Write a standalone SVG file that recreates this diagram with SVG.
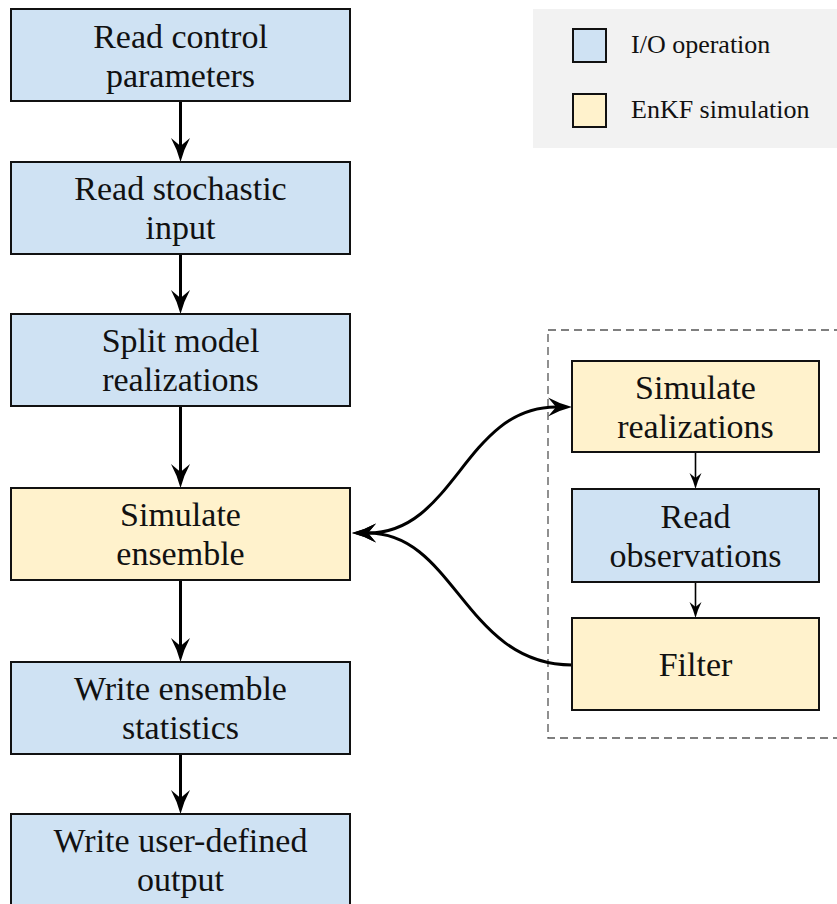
<svg xmlns="http://www.w3.org/2000/svg" width="837" height="904" viewBox="0 0 837 904">
  <defs>
    <style>
      .box { stroke: #111; stroke-width: 2; }
      .io { fill: #cfe2f3; }
      .sim { fill: #fff2cc; }
      .lbl { font-family: "Liberation Serif", "Times New Roman", serif; font-size: 34px; fill: #111; text-anchor: middle; }
      .leg { font-family: "Liberation Serif", "Times New Roman", serif; font-size: 26px; fill: #111; }
      .thick { fill: none; stroke: #000; stroke-width: 3; }
      .thin { fill: none; stroke: #000; stroke-width: 1.6; }
    </style>
    <marker id="ah" markerUnits="userSpaceOnUse" markerWidth="40" markerHeight="40" refX="0" refY="0" orient="auto" overflow="visible">
      <path d="M16,0 Q4,-3 -8,-9.5 L0,0 L-8,9.5 Q4,3 16,0 Z" fill="#000"/>
    </marker>
    <marker id="ahs" markerUnits="userSpaceOnUse" markerWidth="30" markerHeight="30" refX="0" refY="0" orient="auto-start-reverse" overflow="visible">
      <path d="M16,0 Q4,-3 -8,-9.5 L0,0 L-8,9.5 Q4,3 16,0 Z" fill="#000"/>
    </marker>
    <marker id="ah2" markerUnits="userSpaceOnUse" markerWidth="30" markerHeight="30" refX="0" refY="0" orient="auto" overflow="visible">
      <path d="M11,0 Q3,-2 -5,-6 L0,0 L-5,6 Q3,2 11,0 Z" fill="#000"/>
    </marker>
  </defs>

  <rect width="837" height="904" fill="#ffffff"/>

  <g id="legend">
    <rect x="533" y="9" width="304" height="139" fill="#f2f2f2"/>
    <rect x="573" y="29" width="33" height="33" class="box io" stroke-width="1.5"/>
    <text x="631" y="53" class="leg">I/O operation</text>
    <rect x="573" y="94" width="33" height="33" class="box sim" stroke-width="1.5"/>
    <text x="631" y="118" class="leg">EnKF simulation</text>
  </g>

  <g id="group-enkf">
    <rect x="548" y="330" width="300" height="408" fill="none" stroke="#555" stroke-width="1.3" stroke-dasharray="8 5"/>
  </g>

  <g id="connectors">
    <line x1="180.5" y1="101" x2="180.5" y2="146" class="thick" marker-end="url(#ah)"/>
    <line x1="180.5" y1="254" x2="180.5" y2="298" class="thick" marker-end="url(#ah)"/>
    <line x1="180.5" y1="406" x2="180.5" y2="472" class="thick" marker-end="url(#ah)"/>
    <line x1="180.5" y1="580" x2="180.5" y2="646" class="thick" marker-end="url(#ah)"/>
    <line x1="180.5" y1="754" x2="180.5" y2="798" class="thick" marker-end="url(#ah)"/>
    <line x1="695.5" y1="452" x2="695.5" y2="478" class="thin" marker-end="url(#ah2)"/>
    <line x1="695.5" y1="582" x2="695.5" y2="607" class="thin" marker-end="url(#ah2)"/>
    <path d="M368,533 C455,533 465,407 556,407" class="thick" marker-start="url(#ahs)" marker-end="url(#ah)"/>
    <path d="M572,665 C465,665 455,533 368,533" class="thick" marker-end="url(#ah)"/>
  </g>

  <g id="node-read-control">
    <rect x="11" y="9" width="339" height="92" class="box io"/>
    <text x="180.5" y="48" class="lbl">Read control</text>
    <text x="180.5" y="87" class="lbl">parameters</text>
  </g>
  <g id="node-read-stochastic">
    <rect x="11" y="162" width="339" height="92" class="box io"/>
    <text x="180.5" y="200" class="lbl">Read stochastic</text>
    <text x="180.5" y="239" class="lbl">input</text>
  </g>
  <g id="node-split">
    <rect x="11" y="314" width="339" height="92" class="box io"/>
    <text x="180.5" y="352" class="lbl">Split model</text>
    <text x="180.5" y="391" class="lbl">realizations</text>
  </g>
  <g id="node-simulate-ensemble">
    <rect x="11" y="488" width="339" height="92" class="box sim"/>
    <text x="180.5" y="526" class="lbl">Simulate</text>
    <text x="180.5" y="565" class="lbl">ensemble</text>
  </g>
  <g id="node-write-stats">
    <rect x="11" y="662" width="339" height="92" class="box io"/>
    <text x="180.5" y="700" class="lbl">Write ensemble</text>
    <text x="180.5" y="739" class="lbl">statistics</text>
  </g>
  <g id="node-write-output">
    <rect x="11" y="814" width="339" height="92" class="box io"/>
    <text x="180.5" y="852" class="lbl">Write user-defined</text>
    <text x="180.5" y="891" class="lbl">output</text>
  </g>
  <g id="node-simulate-realizations">
    <rect x="572" y="361" width="247" height="91" class="box sim"/>
    <text x="695.5" y="399" class="lbl">Simulate</text>
    <text x="695.5" y="438" class="lbl">realizations</text>
  </g>
  <g id="node-read-observations">
    <rect x="572" y="489" width="247" height="93" class="box io"/>
    <text x="695.5" y="528" class="lbl">Read</text>
    <text x="695.5" y="567" class="lbl">observations</text>
  </g>
  <g id="node-filter">
    <rect x="572" y="618" width="247" height="92" class="box sim"/>
    <text x="695.5" y="676" class="lbl">Filter</text>
  </g>
</svg>
